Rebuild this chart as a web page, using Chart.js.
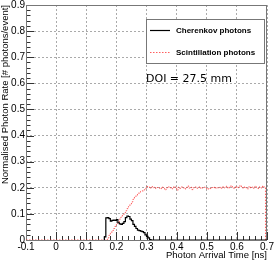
<!DOCTYPE html>
<html lang="en">
<head>
    <meta charset="UTF-8">
    <title>Photon arrival time</title>
    <style>
        html, body {
            margin: 0;
            padding: 0;
            background: #fff;
        }
        #wrap {
            width: 274px;
            height: 263px;
        }
    </style>
</head>
<body>
    <div id="wrap"><canvas id="photonChart" width="274" height="263"></canvas></div>

    <script src="https://cdn.jsdelivr.net/npm/chart.js"></script>
    <script>
        // histogram bins (ns)
        const binWidth = 0.005;
        const cherenkovStart = 0.16;
        const scintStart = 0.17;
        const xMin = -0.1, xMax = 0.7;

        const cherenkovRate = [
            0.000, 0.012, 0.085, 0.086, 0.082, 0.072, 0.075, 0.076, 0.075, 0.078,
            0.066, 0.062, 0.060, 0.064, 0.070, 0.086, 0.092, 0.090, 0.080, 0.074,
            0.060, 0.052, 0.044, 0.038, 0.036, 0.034, 0.032, 0.028, 0.020, 0.014,
            0.008, 0.002, 0.000
        ];

        const scintRate = [
            0.000, 0.008, 0.018, 0.026, 0.036, 0.044, 0.052, 0.060, 0.070, 0.080,
            0.088, 0.096, 0.104, 0.112, 0.120, 0.128, 0.138, 0.146, 0.156, 0.165,
            0.170, 0.176, 0.182, 0.186, 0.188, 0.192, 0.198, 0.205,
            0.203, 0.198, 0.205, 0.200, 0.202, 0.197, 0.201, 0.199, 0.196, 0.203,
            0.198, 0.192, 0.200, 0.204, 0.199, 0.201, 0.196, 0.205, 0.200, 0.191,
            0.202, 0.198, 0.203, 0.200, 0.195, 0.201, 0.207, 0.199, 0.202, 0.193,
            0.200, 0.203, 0.198, 0.201, 0.204, 0.197, 0.200, 0.202, 0.199, 0.194,
            0.198, 0.197, 0.201, 0.199, 0.203, 0.198, 0.200, 0.202, 0.197, 0.204,
            0.199, 0.201, 0.206, 0.198, 0.203, 0.208, 0.200, 0.197, 0.205, 0.199,
            0.202, 0.209, 0.201, 0.198, 0.204, 0.200, 0.196, 0.205, 0.199, 0.203,
            0.198, 0.206, 0.200, 0.197, 0.204, 0.199, 0.207, 0.201
        ];

        const xTickValues = [-0.1, 0, 0.1, 0.2, 0.3, 0.4, 0.5, 0.6, 0.7];
        const yTickValues = [0, 0.1, 0.2, 0.3, 0.4, 0.5, 0.6, 0.7, 0.8, 0.9];

        const seriesLabels = ['Cherenkov photons', 'Scintillation photons'];
        const annotationText = 'DOI = 27.5 mm';

        // bin low edges -> step points
        function toSteps(start, values, lead) {
            const pts = lead ? [{x: lead, y: 0}] : [];
            values.forEach((v, i) => {
                pts.push({x: +(start + i * binWidth).toFixed(4), y: v});
            });
            pts.push({x: xMax, y: 0});
            return pts;
        }

        const fmt = v => String(Math.round(v * 10) / 10);

        // ROOT-like frame, inner ticks, legend box and label
        const rootLook = {
            id: 'rootLook',
            beforeDatasetsDraw(chart) {
                const {ctx, chartArea: a, scales: {x, y}} = chart;
                ctx.save();
                ctx.strokeStyle = '#333';
                ctx.lineWidth = 1;
                ctx.beginPath();
                for (let v = xMin; v <= xMax + 1e-9; v += 0.02) {
                    const major = Math.abs(v * 10 - Math.round(v * 10)) < 1e-6;
                    const px = Math.round(x.getPixelForValue(v)) + 0.5;
                    ctx.moveTo(px, a.bottom);
                    ctx.lineTo(px, a.bottom - (major ? 8 : 4));
                }
                for (let v = 0; v <= 0.9 + 1e-9; v += 0.02) {
                    const major = Math.abs(v * 10 - Math.round(v * 10)) < 1e-6;
                    const py = Math.round(y.getPixelForValue(v)) + 0.5;
                    ctx.moveTo(a.left, py);
                    ctx.lineTo(a.left + (major ? 8 : 4.5), py);
                }
                ctx.stroke();
                ctx.strokeStyle = '#777';
                ctx.strokeRect(a.left + 0.5, a.top + 0.5, a.right - a.left - 1, a.bottom - a.top);
                ctx.restore();
            },
            afterDraw(chart) {
                const {ctx} = chart;
                const ds = chart.data.datasets;
                ctx.save();
                ctx.fillStyle = '#fff';
                ctx.fillRect(146, 19, 118, 44);
                ctx.strokeStyle = '#777';
                ctx.lineWidth = 1;
                ctx.strokeRect(146.5, 19.5, 118, 44);
                const rows = [30.5, 52.5];
                ds.forEach((d, i) => {
                    ctx.strokeStyle = d.borderColor;
                    ctx.lineWidth = d.borderWidth;
                    ctx.setLineDash(d.borderDash || []);
                    ctx.beginPath();
                    ctx.moveTo(150, rows[i]);
                    ctx.lineTo(170, rows[i]);
                    ctx.stroke();
                    ctx.setLineDash([]);
                    ctx.fillStyle = '#000';
                    ctx.font = 'bold 8px "Liberation Sans", Arial, sans-serif';
                    ctx.textBaseline = 'middle';
                    ctx.fillText(d.label, 176, rows[i]);
                });
                ctx.font = '11px "DejaVu Sans", sans-serif';
                ctx.textBaseline = 'middle';
                ctx.fillText(annotationText, 146, 79);
                ctx.restore();
            }
        };

        const gridStyle = {
            color: '#aaa',
            lineWidth: 1,
            drawTicks: false
        };

        new Chart(document.getElementById('photonChart'), {
            type: 'line',
            data: {
                datasets: [
                    {
                        label: seriesLabels[0],
                        data: toSteps(cherenkovStart, cherenkovRate),
                        borderColor: '#000',
                        borderWidth: 1.2,
                        stepped: 'after',
                        pointRadius: 0,
                        fill: false
                    },
                    {
                        label: seriesLabels[1],
                        data: toSteps(scintStart, scintRate, xMin),
                        borderColor: 'rgba(255, 40, 40, 0.75)',
                        borderWidth: 1,
                        borderDash: [1.5, 1.5],
                        stepped: 'after',
                        pointRadius: 0,
                        fill: false
                    }
                ]
            },
            options: {
                responsive: false,
                animation: false,
                events: [],
                layout: {padding: {top: 5, right: 7, left: 0, bottom: 0}},
                plugins: {legend: {display: false}, tooltip: {enabled: false}},
                scales: {
                    x: {
                        type: 'linear',
                        min: xMin,
                        max: xMax,
                        afterBuildTicks: s => { s.ticks = xTickValues.map(v => ({value: v})); },
                        afterFit: s => { s.height = 23; s.paddingLeft = 0; s.paddingRight = 0; },
                        grid: gridStyle,
                        border: {display: false, dash: [2, 2]},
                        ticks: {
                            padding: 1,
                            maxRotation: 0,
                            autoSkip: false,
                            color: '#000',
                            font: {family: '"Liberation Sans", Arial, sans-serif', size: 10},
                            callback: v => fmt(v)
                        },
                        title: {
                            display: true,
                            text: 'Photon Arrival Time [ns]',
                            align: 'end',
                            color: '#000',
                            padding: {top: 0, bottom: 2},
                            font: {family: '"Liberation Sans", Arial, sans-serif', size: 9.5}
                        }
                    },
                    y: {
                        min: 0,
                        max: 0.9,
                        afterBuildTicks: s => { s.ticks = yTickValues.map(v => ({value: v})); },
                        afterFit: s => { s.width = 26; s.paddingTop = 0; s.paddingBottom = 0; },
                        grid: gridStyle,
                        border: {display: false, dash: [2, 2]},
                        ticks: {
                            padding: 1,
                            color: '#000',
                            font: {family: '"Liberation Sans", Arial, sans-serif', size: 10},
                            callback: v => fmt(v)
                        },
                        title: {
                            display: true,
                            text: 'Normalised Photon Rate [# photons/event]',
                            align: 'end',
                            color: '#000',
                            padding: {top: 0, bottom: 0},
                            font: {family: '"Liberation Sans", Arial, sans-serif', size: 9.5}
                        }
                    }
                }
            },
            plugins: [rootLook]
        });
    </script>
</body>
</html>
